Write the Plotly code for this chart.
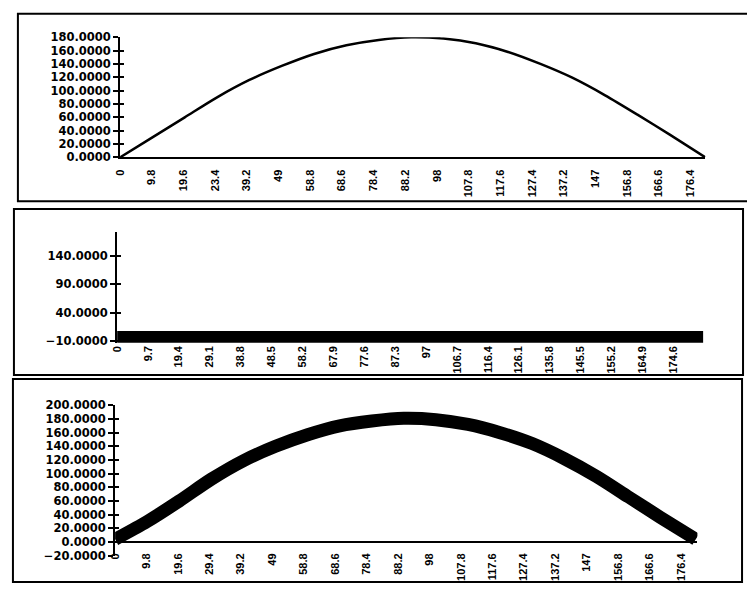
import plotly.graph_objects as go

# ---------------- data ----------------
top_x = [0, 10, 20, 30, 40, 50, 60, 70, 80, 90, 100, 110, 120, 130, 140, 150, 160, 170, 181]
top_y = [0, 30, 60, 90, 116, 137, 155, 168, 176, 180, 178, 171, 158, 140, 119, 93, 64, 34, 0]

mid_x = [0, 20, 40, 60, 80, 100, 120, 140, 160, 184]
mid_y = [-3, -3, -3, -3, -3, -3, -3, -3, -3, -3]

bot_x = [0, 10, 20, 30, 40, 50, 60, 70, 80, 90, 100, 110, 120, 130, 140, 150, 160, 170, 181]
bot_y = [4, 30, 60, 92, 119, 140, 157, 170, 177, 181, 179, 172, 160, 144, 122, 96, 66, 36, 4]

top_tickvals = [0, 9.8, 19.6, 29.4, 39.2, 49, 58.8, 68.6, 78.4, 88.2, 98, 107.8, 117.6, 127.4,
                137.2, 147, 156.8, 166.6, 176.4]
top_ticktext = ["0", "9.8", "19.6", "23.4", "39.2", "49", "58.8", "68.6", "78.4", "88.2", "98",
                "107.8", "117.6", "127.4", "137.2", "147", "156.8", "166.6", "176.4"]

mid_tickvals = [0, 9.7, 19.4, 29.1, 38.8, 48.5, 58.2, 67.9, 77.6, 87.3, 97, 106.7, 116.4, 126.1,
                135.8, 145.5, 155.2, 164.9, 174.6]
mid_ticktext = ["0", "9.7", "19.4", "29.1", "38.8", "48.5", "58.2", "67.9", "77.6", "87.3", "97",
                "106.7", "116.4", "126.1", "135.8", "145.5", "155.2", "164.9", "174.6"]

bot_tickvals = [0, 9.8, 19.6, 29.4, 39.2, 49, 58.8, 68.6, 78.4, 88.2, 98, 107.8, 117.6, 127.4,
                137.2, 147, 156.8, 166.6, 176.4]
bot_ticktext = ["0", "9.8", "19.6", "29.4", "39.2", "49", "58.8", "68.6", "78.4", "88.2", "98",
                "107.8", "117.6", "127.4", "137.2", "147", "156.8", "166.6", "176.4"]

mid_ytickvals = [-10, 40, 90, 140]

# ---------------- layout helpers ----------------
W, H = 747, 590


def px(x):
    return x / W


def py(y):
    return 1 - y / H


XFONT = dict(family="Liberation Sans Narrow, Arial Narrow, Liberation Sans, Arial", size=11,
             color="black", weight="bold")
YFONT = dict(family="DejaVu Sans, Verdana, sans-serif", size=11.5, color="black", weight="bold")

fig = go.Figure()
fig.add_trace(go.Scatter(x=top_x, y=top_y, mode="lines", xaxis="x", yaxis="y",
                         line=dict(color="black", width=2.5, shape="spline", smoothing=0.8),
                         showlegend=False, hoverinfo="skip"))
fig.add_trace(go.Scatter(x=mid_x, y=mid_y, mode="lines", xaxis="x2", yaxis="y2",
                         line=dict(color="black", width=12), showlegend=False, hoverinfo="skip"))
fig.add_trace(go.Scatter(x=bot_x, y=bot_y, mode="lines", xaxis="x3", yaxis="y3",
                         line=dict(color="black", width=13, shape="spline", smoothing=0.8),
                         showlegend=False, hoverinfo="skip"))
# invisible traces so that the inner-tick overlay axes are drawn (cross-style ticks)
for xa, ya in [("x", "y4"), ("x2", "y5"), ("x3", "y6")]:
    fig.add_trace(go.Scatter(x=[None], y=[None], xaxis=xa, yaxis=ya, mode="lines",
                             showlegend=False, hoverinfo="skip"))

common_x = dict(showgrid=False, zeroline=False, tickangle=-90, tickfont=XFONT, ticks="",
                tickmode="array", linecolor="black", linewidth=2)
common_y = dict(showgrid=False, zeroline=False, tickfont=YFONT, ticks="outside", ticklen=5,
                tickwidth=1.5, tickcolor="black", showline=True, linecolor="black", linewidth=2,
                tickformat=".4f")
inner_y = dict(showgrid=False, zeroline=False, ticks="inside", ticklen=4, tickwidth=1.5,
               tickcolor="black", showline=False, showticklabels=False, side="left")

fig.update_layout(
    width=W, height=H, margin=dict(l=0, r=0, t=0, b=0),
    paper_bgcolor="white", plot_bgcolor="white", showlegend=False,
    xaxis=dict(domain=[px(115), px(705)], range=[0, 181], anchor="y", showline=True,
               tickvals=top_tickvals, ticktext=top_ticktext, ticklabelstandoff=6, **common_x),
    yaxis=dict(domain=[py(154), py(31)], range=[0, 180], anchor="x", dtick=20, tick0=0,
               **common_y),
    yaxis4=dict(overlaying="y", anchor="x", range=[0, 180], dtick=20, tick0=0, **inner_y),
    xaxis2=dict(domain=[px(112), px(703)], range=[0, 184], anchor="y2", showline=False,
                tickvals=mid_tickvals, ticktext=mid_ticktext, ticklabelstandoff=0, **common_x),
    yaxis2=dict(domain=[py(344), py(230)], range=[-13.5, 183], anchor="x2",
                tickvals=mid_ytickvals, **common_y),
    yaxis5=dict(overlaying="y2", anchor="x2", range=[-13.5, 183], tickvals=mid_ytickvals,
                **inner_y),
    xaxis3=dict(domain=[px(110), px(697)], range=[0, 181.5], anchor="free",
                position=py(548), showline=True, tickvals=bot_tickvals, ticktext=bot_ticktext,
                ticklabelstandoff=6, **common_x),
    yaxis3=dict(domain=[py(562), py(408)], range=[-20, 200], anchor="x3", dtick=20, tick0=0,
                **common_y),
    yaxis6=dict(overlaying="y3", anchor="x3", range=[-20, 200], dtick=20, tick0=0, **inner_y),
)

# panel frames (scanned chart borders)
frames = [(12, 7, 750, 199), (8, 207, 743, 377), (7, 381, 742, 589)]
for x0, y0, x1, y1 in frames:
    fig.add_shape(type="rect", xref="paper", yref="paper", x0=px(x0), x1=px(x1),
                  y0=py(y1), y1=py(y0), line=dict(color="black", width=2), layer="above")

fig.write_html("out.html", config={"displayModeBar": False},
               post_script="document.body.style.margin='0';document.body.style.overflow='hidden';")
